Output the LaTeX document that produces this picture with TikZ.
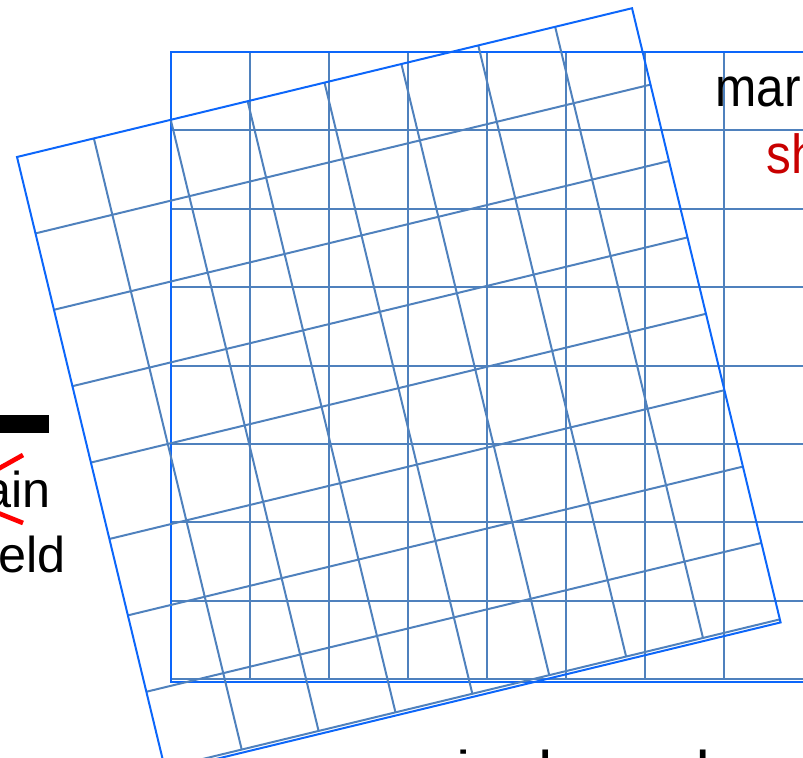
\documentclass[tikz,border=0pt]{standalone}
\usepackage{fontspec}
\setmainfont{Liberation Sans}
\usepackage{xcolor}
\definecolor{frameblue}{RGB}{12,102,250}
\definecolor{gridblue}{RGB}{79,129,189}
\definecolor{labelred}{RGB}{200,0,0}

\begin{document}
\begin{tikzpicture}[x=0.03cm,y=-0.03cm,
  frame/.style={draw=frameblue,line width=1.7pt},
  gridline/.style={draw=gridblue,line width=1.7pt},
  smalltxt/.style={inner sep=0pt,font=\fontsize{43}{50}\selectfont},
  bigtxt/.style={inner sep=0pt,font=\fontsize{47}{56}\selectfont}]

\useasboundingbox (0,0) rectangle (803,758);
\clip (0,0) rectangle (803,758);

% straight grid
\begin{scope}[shift={(171,52)},xscale=79,yscale=78.4]
  \foreach \i in {1,...,7}
    \draw[gridline] (\i,0) -- (\i,8);
  \foreach \j in {1,...,8}
    \draw[gridline] (0,\j) -- (9,\j);
  \draw[frame] (9,0) -- (0,0) -- (0,8.04) -- (9,8.04);
\end{scope}

% rotated grid
\begin{scope}[shift={(17,157)},rotate=13.6,xscale=79.1,yscale=78.6]
  \foreach \i in {1,...,7}
    \draw[gridline] (\i,0) -- (\i,8);
  \foreach \j in {1,...,8}
    \draw[gridline] (0,\j) -- (8,\j);
  \draw[frame] (0,0) rectangle (8,8.04);
\end{scope}

% labels
\node[bigtxt,anchor=base west] (mar) at (715,107) {\scalebox{0.9}[1]{mar}};
\node[bigtxt,anchor=base west,text=labelred] (sh) at (766,173) {\scalebox{0.9}[1]{sh}};
\node[smalltxt,anchor=base east] (ain) at (51,507) {ain};
\node[smalltxt,anchor=base east] (eld) at (66,572) {eld};
\node[smalltxt,anchor=base west] (pix) at (420,786) {\scalebox{1.28}[1]{pixels and}};

% left marks
\fill (0,415) rectangle (49,433);
\coordinate (r1) at (-2,469);
\coordinate (r2) at (23,455);
\coordinate (r3) at (-2,513);
\coordinate (r4) at (23,523);
\draw[red,line width=4pt] (r1) -- (r2);
\draw[red,line width=4pt] (r3) -- (r4);

\end{tikzpicture}
\end{document}
